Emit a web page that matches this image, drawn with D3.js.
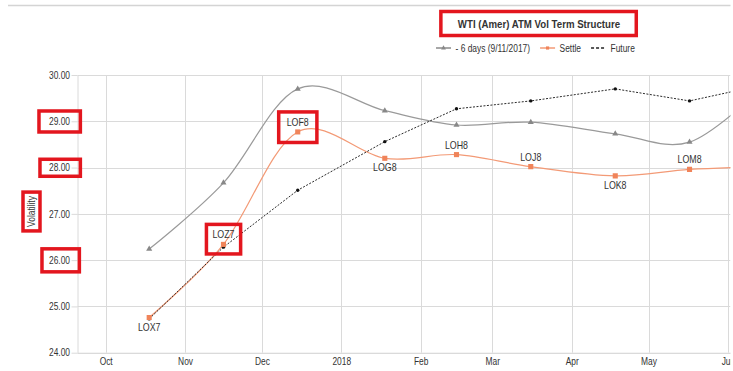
<!DOCTYPE html>
<html>
<head>
<meta charset="utf-8">
<script src="https://cdn.jsdelivr.net/npm/d3@7"></script>
<style>
    body { margin: 0; background: #fff; }
    text { font-family: "Liberation Sans", Arial, sans-serif; fill: #333; }
</style>
</head>
<body>
<div id="chart"></div>
<script>
(function () {
    'use strict';

    // option contracts and their expiry dates
    var contracts = ['LOX7', 'LOZ7', 'LOF8', 'LOG8', 'LOH8', 'LOJ8', 'LOK8', 'LOM8', 'LON8'];
    var expiries = ['2017-10-18', '2017-11-16', '2017-12-15', '2018-01-18', '2018-02-15',
        '2018-03-16', '2018-04-18', '2018-05-17', '2018-06-15'];

    // ATM vols
    var priorVol = [26.24, 27.67, 29.70, 29.23, 28.92, 28.98, 28.73, 28.55, 29.76];
    var settleVol = [24.76, 26.34, 28.77, 28.20, 28.28, 28.02, 27.82, 27.96, 28.02];
    var futureVol = [24.73, 26.28, 27.51, 28.56, 29.27, 29.44, 29.70, 29.44, 29.79];

    var yTicks = [24, 25, 26, 27, 28, 29, 30];
    var monthTicks = ['2017-10-01', '2017-11-01', '2017-12-01', '2018-01-01', '2018-02-01',
        '2018-03-01', '2018-04-01', '2018-05-01', '2018-06-01'];
    var monthLabels = ['Oct', 'Nov', 'Dec', '2018', 'Feb', 'Mar', 'Apr', 'May', 'Jun'];
    var xDomain = ['2017-09-20', '2018-06-02'];

    var chartTitle = 'WTI (Amer) ATM Vol Term Structure';
    var seriesNames = ['- 6 days (9/11/2017)', 'Settle', 'Future'];
    var yTitle = 'Volatility';

    var width = 733,
        height = 371,
        plot = { left: 77.5, right: 730.5, top: 75, bottom: 352.7 },
        gridColor = '#dadada',
        red = '#e3161e',
        narrow = 0.84;   // the source font is a narrow face

    var parse = d3.timeParse('%Y-%m-%d');

    // squeeze a text horizontally to mimic the narrow font
    function condense(sel, k) {
        sel.each(function () {
            var w = this.getComputedTextLength();
            if (w > 0) {
                this.setAttribute('textLength', w * (k || narrow));
                this.setAttribute('lengthAdjust', 'spacingAndGlyphs');
            }
        });
        return sel;
    }

    var svg = d3.select('#chart').append('svg')
        .attr('width', width)
        .attr('height', height);

    svg.append('clipPath').attr('id', 'page')
        .append('rect').attr('x', 0).attr('y', 0).attr('width', 730.5).attr('height', height);

    var root = svg.append('g').attr('clip-path', 'url(#page)');

    var x = d3.scaleTime()
        .domain(xDomain.map(parse))
        .range([plot.left, plot.right]);

    var y = d3.scaleLinear()
        .domain([24, 30])
        .range([plot.bottom, plot.top]);

    // thin rule across the top
    root.append('line')
        .attr('x1', 8).attr('x2', 731)
        .attr('y1', 5.5).attr('y2', 5.5)
        .attr('stroke', '#d4d4d4')
        .attr('stroke-width', 1.5);

    // gridlines
    var grid = root.append('g').attr('class', 'grid');
    grid.selectAll('line.h')
        .data(yTicks)
        .enter().append('line')
        .attr('class', 'h')
        .attr('x1', plot.left).attr('x2', plot.right)
        .attr('y1', function (d) { return Math.round(y(d)) + 0.5; })
        .attr('y2', function (d) { return Math.round(y(d)) + 0.5; })
        .attr('stroke', gridColor);
    grid.selectAll('line.v')
        .data(monthTicks.map(parse))
        .enter().append('line')
        .attr('class', 'v')
        .attr('x1', function (d) { return Math.round(x(d)) + 0.5; })
        .attr('x2', function (d) { return Math.round(x(d)) + 0.5; })
        .attr('y1', plot.top).attr('y2', plot.bottom)
        .attr('stroke', gridColor);

    // axes
    var yAxis = root.append('g')
        .attr('transform', 'translate(' + plot.left + ',0)')
        .call(d3.axisLeft(y)
            .tickValues(yTicks)
            .tickFormat(d3.format('.2f'))
            .tickSize(6)
            .tickSizeOuter(0)
            .tickPadding(1.5));
    yAxis.select('.domain').attr('stroke', gridColor);
    yAxis.selectAll('.tick line').attr('stroke', gridColor);
    yAxis.selectAll('.tick text').attr('font-size', 10).attr('fill', '#333')
        .attr('font-family', null);

    var xAxis = root.append('g')
        .attr('transform', 'translate(0,' + plot.bottom + ')')
        .call(d3.axisBottom(x)
            .tickValues(monthTicks.map(parse))
            .tickFormat(function (d, i) { return monthLabels[i]; })
            .tickSize(0)
            .tickPadding(5.5));
    xAxis.select('.domain').attr('stroke', gridColor);
    xAxis.selectAll('.tick text').attr('font-size', 10).attr('fill', '#333')
        .attr('font-family', null);

    var axisTitle = root.append('text')
        .attr('transform', 'translate(31.5,211.5) rotate(-90)')
        .attr('text-anchor', 'middle')
        .attr('dominant-baseline', 'central')
        .attr('font-size', 10)
        .text(yTitle);

    // series
    var data = contracts.map(function (c, i) {
        return {
            contract: c,
            date: parse(expiries[i]),
            prior: priorVol[i],
            settle: settleVol[i],
            future: futureVol[i]
        };
    });

    var series = root.append('g');

    function line(key, curve) {
        return d3.line()
            .x(function (d) { return x(d.date); })
            .y(function (d) { return y(d[key]); })
            .curve(curve);
    }

    series.append('path')
        .datum(data)
        .attr('fill', 'none')
        .attr('stroke', '#9a9a9a')
        .attr('stroke-width', 1.2)
        .attr('d', line('prior', d3.curveCardinal.tension(0)));

    series.append('path')
        .datum(data)
        .attr('fill', 'none')
        .attr('stroke', '#f39a76')
        .attr('stroke-width', 1.2)
        .attr('d', line('settle', d3.curveCardinal.tension(0)));

    series.append('path')
        .datum(data)
        .attr('fill', 'none')
        .attr('stroke', '#2a2a2a')
        .attr('stroke-width', 1)
        .attr('stroke-dasharray', '2,1.5')
        .attr('d', line('future', d3.curveLinear));

    var triangle = d3.symbol().type(d3.symbolTriangle).size(16);
    var square = d3.symbol().type(d3.symbolSquare).size(26);

    series.selectAll('path.prior')
        .data(data)
        .enter().append('path')
        .attr('class', 'prior')
        .attr('transform', function (d) { return 'translate(' + x(d.date) + ',' + y(d.prior) + ')'; })
        .attr('d', triangle)
        .attr('fill', '#888');

    series.selectAll('circle.future')
        .data(data)
        .enter().append('circle')
        .attr('class', 'future')
        .attr('cx', function (d) { return x(d.date); })
        .attr('cy', function (d) { return y(d.future); })
        .attr('r', 1.7)
        .attr('fill', '#111');

    var settleMarks = series.selectAll('path.settle')
        .data(data)
        .enter().append('path')
        .attr('class', 'settle')
        .attr('transform', function (d) { return 'translate(' + x(d.date) + ',' + y(d.settle) + ')'; })
        .attr('d', square)
        .attr('fill', '#f0845a');

    // contract labels on the settle curve: below a local low, above otherwise
    function isLow(i) {
        var v = settleVol[i];
        var prev = i > 0 ? settleVol[i - 1] : Infinity;
        var next = i < settleVol.length - 1 ? settleVol[i + 1] : Infinity;
        return v <= prev && v <= next;
    }

    var inView = data.filter(function (d) { return x(d.date) < plot.right; });
    var labels = series.selectAll('text.contract')
        .data(inView)
        .enter().append('text')
        .attr('class', 'contract')
        .attr('x', function (d) { return x(d.date); })
        .attr('y', function (d, i) { return y(d.settle) + (isLow(i) ? 9 : -10); })
        .attr('text-anchor', 'middle')
        .attr('dominant-baseline', 'central')
        .attr('font-size', 10.5)
        .attr('fill', '#222')
        .text(function (d) { return d.contract; });

    // title and legend
    var title = svg.append('text')
        .attr('x', 539)
        .attr('y', 23.5)
        .attr('text-anchor', 'middle')
        .attr('dominant-baseline', 'central')
        .attr('font-size', 10.5)
        .attr('font-weight', 'bold')
        .attr('fill', '#111')
        .text(chartTitle);

    condense(root.selectAll('text'));
    condense(title, 0.92);

    var legend = svg.append('g').attr('transform', 'translate(436,48)');
    var legendStyles = [
        { stroke: '#8a8a8a', dash: null, mark: 'tri' },
        { stroke: '#f39a76', dash: null, mark: 'sq' },
        { stroke: '#222', dash: '3,2', mark: null }
    ];
    var cursor = 0;
    seriesNames.forEach(function (name, i) {
        var st = legendStyles[i];
        var item = legend.append('g').attr('transform', 'translate(' + cursor + ',0)');
        item.append('line')
            .attr('x1', 0).attr('x2', 15)
            .attr('stroke', st.stroke)
            .attr('stroke-width', 1.5)
            .attr('stroke-dasharray', st.dash);
        if (st.mark === 'tri') {
            item.append('path').attr('transform', 'translate(7.5,0)')
                .attr('d', d3.symbol().type(d3.symbolTriangle).size(10)).attr('fill', '#888');
        } else if (st.mark === 'sq') {
            item.append('path').attr('transform', 'translate(7.5,0)')
                .attr('d', d3.symbol().type(d3.symbolSquare).size(10)).attr('fill', '#f0845a');
        }
        var t = item.append('text')
            .attr('x', 19.5)
            .attr('dominant-baseline', 'central')
            .attr('font-size', 10)
            .text(name);
        var w = t.node().getComputedTextLength() * narrow;
        condense(t);
        cursor += 19.5 + w + 10;
    });

    // red highlight boxes
    function boxAround(nodes, pad) {
        var x0 = Infinity, y0 = Infinity, x1 = -Infinity, y1 = -Infinity;
        nodes.forEach(function (n) {
            var b = n.getBoundingClientRect();
            x0 = Math.min(x0, b.left); y0 = Math.min(y0, b.top);
            x1 = Math.max(x1, b.right); y1 = Math.max(y1, b.bottom);
        });
        svg.append('rect')
            .attr('x', x0 - pad[3])
            .attr('y', y0 - pad[0])
            .attr('width', x1 - x0 + pad[1] + pad[3])
            .attr('height', y1 - y0 + pad[0] + pad[2])
            .attr('fill', 'none')
            .attr('stroke', red)
            .attr('stroke-width', 3.5);
    }

    function tickLabel(v) {
        return yAxis.selectAll('.tick').filter(function (d) { return d === v; }).select('text').node();
    }
    function contractNodes(c) {
        var i = contracts.indexOf(c);
        return [labels.nodes()[i], settleMarks.nodes()[i]];
    }

    boxAround([title.node()], [6, 16, 6, 17]);
    boxAround([tickLabel(29)], [5, 10, 5, 10]);
    boxAround([tickLabel(28)], [3, 10, 3, 9]);
    boxAround([tickLabel(26)], [6, 9, 6, 7]);
    boxAround([axisTitle.node()], [4, 3, 4, 3]);
    boxAround(contractNodes('LOZ7'), [4, 6, 7, 6]);
    boxAround(contractNodes('LOF8'), [4, 8, 8, 8]);
})();
</script>
</body>
</html>
